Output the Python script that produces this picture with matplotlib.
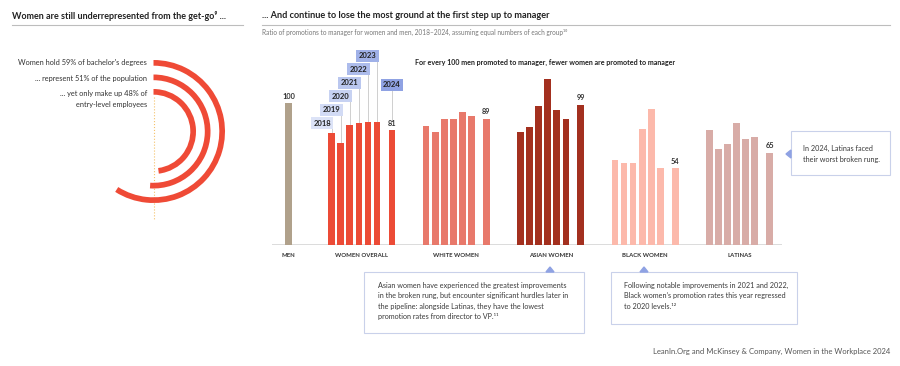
import numpy as np
import matplotlib.pyplot as plt
from matplotlib.patches import Wedge, Rectangle, Polygon

plt.rcParams['font.family'] = ['Lato', 'DejaVu Sans']

# ---- data ----
groups = ['MEN', 'WOMEN OVERALL', 'WHITE WOMEN', 'ASIAN WOMEN', 'BLACK WOMEN', 'LATINAS']
years = ['2018', '2019', '2020', '2021', '2022', '2023', '2024']
men = [100]
women_overall = [79, 72, 85, 86, 87, 87, 81]
white_women = [84, 80, 89, 89, 94, 91, 89]
asian_women = [80, 83, 98, 117, 95, 89, 99]
black_women = [60, 58, 58, 82, 96, 54, 54]
latinas = [81, 68, 71, 86, 75, 76, 65]
group_colors = ['#b0a18b', '#ec4b36', '#e8796b', '#a3301f', '#fcb9ab', '#d8aca7']
year_box_colors = ['#dce3f7', '#d2dbf5', '#c7d2f2', '#bac7ef', '#adbcec', '#a0b1e8', '#8fa2e3']

arc_pcts = [59, 51, 48]
arc_labels = ["Women hold 59% of bachelor's degrees",
              "... represent 51% of the population",
              "... yet only make up 48% of\nentry-level employees"]

W, H = 900, 366
fig = plt.figure(figsize=(W / 100, H / 100), dpi=100)
fig.patch.set_facecolor('white')

# ---- bar chart ----
ax = fig.add_axes([272 / W, 121 / H, 510 / W, 195 / H])
step_px = 9.07
ax.set_xlim(-1.82, -1.82 + 510 / step_px)
ax.set_ylim(0, 195 / 1.417)
ax.axis('off')

bw = 0.74
offsets = [0, 1, 2, 3, 4, 5, 6.65]
series = [men, women_overall, white_women, asian_women, black_women, latinas]
centers = []
for g, vals in enumerate(series):
    if g == 0:
        xs = [0.0]
    else:
        start = 4.76 + (g - 1) * 10.41
        xs = [start + o for o in offsets]
    ax.bar(xs, vals, width=bw, color=group_colors[g], zorder=2)
    centers.append((xs[0] + xs[-1]) / 2)
    ax.annotate(str(vals[-1]), (xs[-1], vals[-1]), xytext=(0, 2.5), textcoords='offset points',
                ha='center', va='bottom', fontsize=5.3, fontweight='bold', color='#333333')
    ax.text(centers[-1], -7.5, groups[g], ha='center', va='center', fontsize=4.3,
            fontweight='bold', color='#333333')

ax.axhline(0, color='#d6d6d6', lw=1.2, zorder=1)

# year call-outs on women overall
wo_x = [4.76 + o for o in offsets]
for i, yr in enumerate(years):
    if i < 6:
        bx = wo_x[i] - 1.05
        by = 86 + 9.5 * i
        y0 = women_overall[i] + 0.5
    else:
        bx = wo_x[i]
        by = 113
        y0 = women_overall[i] + 7
    ax.plot([wo_x[i], wo_x[i]], [y0, by], color='#cfcfcf', lw=0.7, zorder=1)
    ax.text(bx, by, yr, ha='center', va='center', fontsize=5.5, fontweight='bold', color='#222222',
            zorder=5, bbox=dict(boxstyle='square,pad=0.33', fc=year_box_colors[i], ec='none'))

# ---- overlay in pixel coordinates ----
ov = fig.add_axes([0, 0, 1, 1])
ov.set_xlim(0, W)
ov.set_ylim(H, 0)
ov.axis('off')
ov.patch.set_alpha(0)

# titles
ov.text(12, 16, 'Women are still underrepresented from the get-go⁹ ...', fontsize=6.5,
        fontweight='bold', color='#222222', va='center')
ov.plot([12, 243], [24.5, 24.5], color='#bdbdbd', lw=0.8)
ov.text(262, 16, '... And continue to lose the most ground at the first step up to manager',
        fontsize=6.6, fontweight='bold', color='#222222', va='center')
ov.plot([262, 890], [24.5, 24.5], color='#bdbdbd', lw=0.8)
ov.text(262, 32, 'Ratio of promotions to manager for women and men, 2018–2024, assuming equal numbers of each group¹⁰',
        fontsize=4.7, color='#777777', va='center')
ov.text(415, 62, 'For every 100 men promoted to manager, fewer women are promoted to manager',
        fontsize=5.15, fontweight='bold', color='#222222', va='center')

# arcs
cx, cy = 153.5, 131.5
ov.plot([cx, cx], [97, 220], color='#f5c26b', lw=0.8, ls=':', zorder=1)
radii = [71.5, 57, 42.5]
label_y = [62.5, 78, 94]
for pct, r, lab, ly in zip(arc_pcts, radii, arc_labels, label_y):
    sweep = pct / 100 * 360
    ov.add_patch(Wedge((cx, cy), r, -90, -90 + sweep, width=5.7, color='#ef4a36', lw=0, zorder=2))
    if '\n' in lab:
        ov.text(147, ly - 4, lab, ha='right', va='top', fontsize=5.3, color='#333333',
                linespacing=1.6)
    else:
        ov.text(147, ly, lab, ha='right', va='center', fontsize=5.3, color='#333333')

# annotation boxes
box_ec = '#c9d1ea'
tri_c = '#8fa2e3'
note_kw = dict(fontsize=5.2, color='#3a3a3a', linespacing=1.57)
ov.add_patch(Rectangle((364, 272), 220, 61, fc='white', ec=box_ec, lw=0.8))
ov.add_patch(Polygon([[546, 272], [554, 272], [550, 267]], closed=True, color=tri_c))
ov.text(378, 282, 'Asian women have experienced the greatest improvements\n'
        'in the broken rung, but encounter significant hurdles later in\n'
        'the pipeline: alongside Latinas, they have the lowest\n'
        'promotion rates from director to VP.¹¹', va='top', **note_kw)

ov.add_patch(Rectangle((611, 272), 186, 52, fc='white', ec=box_ec, lw=0.8))
ov.add_patch(Polygon([[640, 272], [648, 272], [644, 267]], closed=True, color=tri_c))
ov.text(624, 282, 'Following notable improvements in 2021 and 2022,\n'
        "Black women’s promotion rates this year regressed\n"
        'to 2020 levels.¹²', va='top', **note_kw)

ov.add_patch(Rectangle((791, 131), 99, 44, fc='white', ec=box_ec, lw=0.8))
ov.add_patch(Polygon([[791, 150], [791, 158], [786, 154]], closed=True, color=tri_c))
ov.text(803, 154, 'In 2024, Latinas faced\ntheir worst broken rung.', va='center', **note_kw)

ov.text(890, 351, 'LeanIn.Org and McKinsey & Company, Women in the Workplace 2024', ha='right',
        va='center', fontsize=5.5, color='#555555')

fig.savefig('out.png', dpi=100, facecolor='white')
